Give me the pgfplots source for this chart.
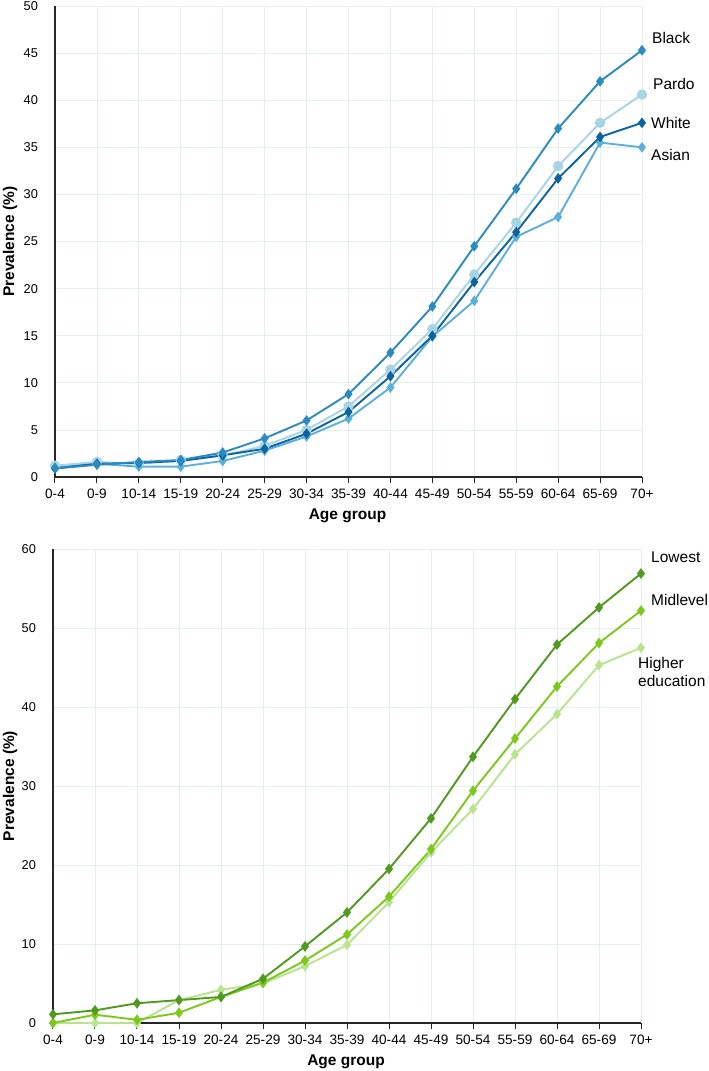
\documentclass[border=0pt]{standalone}
\usepackage{pgfplots}
\pgfplotsset{compat=1.18}
\usepackage{fontspec}
\setmainfont{Liberation Sans}
\definecolor{cBlack}{HTML}{2A8BC0}
\definecolor{cPardo}{HTML}{A8D4E6}
\definecolor{cWhite}{HTML}{0B64A0}
\definecolor{cAsian}{HTML}{5CB0D8}
\definecolor{gLow}{HTML}{4F9A1F}
\definecolor{gMid}{HTML}{7DC91B}
\definecolor{gHigh}{HTML}{BAE38F}
\definecolor{gridc}{HTML}{E6EFEF}
\newcommand{\lbl}{\fontsize{15.5}{18.8}\selectfont}
\pgfplotsset{
  agechart/.style={
    scale only axis, width=587pt,
    xmin=0, xmax=14, ymin=0, enlargelimits=false,
    xtick={0,...,14},
    xticklabels={0-4,0-9,10-14,15-19,20-24,25-29,30-34,35-39,40-44,45-49,50-54,55-59,60-64,65-69,70+},
    axis lines=left, axis line style={-, line width=1.2pt, black!85},
    xmajorgrids, ymajorgrids, grid style={gridc, line width=0.8pt},
    xtick align=outside, major tick length=6pt,
    xtick style={black!85, line width=1pt},
    ytick style={draw=none},
    xticklabel style={font=\fontsize{13.6}{16}\selectfont, yshift=-2pt},
    yticklabel style={font=\fontsize{12.8}{15}\selectfont, xshift=-10.5pt},
    /pgf/number format/assume math mode=true,
    clip=false,
    every axis plot/.append style={line width=1.9pt},
  },
  dmark/.style={mark=diamond*, mark size=3.8pt, mark options={solid}},
}
\begin{document}
\begin{tikzpicture}
\begin{axis}[agechart, height=471pt, ymax=50, ytick={0,5,...,50}]
\addplot[cPardo, mark=*, mark size=4.2pt] coordinates {
(0,1.2) (1,1.6) (2,1.4) (3,1.8) (4,2.3) (5,3.3) (6,5.0) (7,7.5)
(8,11.4) (9,15.7) (10,21.5) (11,27.0) (12,33.0) (13,37.6) (14,40.6)};
\addplot[cAsian, dmark] coordinates {
(0,1.0) (1,1.4) (2,1.1) (3,1.1) (4,1.7) (5,2.8) (6,4.3) (7,6.2)
(8,9.5) (9,14.9) (10,18.7) (11,25.5) (12,27.6) (13,35.5) (14,35.0)};
\addplot[cWhite, dmark] coordinates {
(0,0.9) (1,1.4) (2,1.5) (3,1.7) (4,2.3) (5,3.0) (6,4.6) (7,6.9)
(8,10.7) (9,15.0) (10,20.7) (11,26.0) (12,31.7) (13,36.1) (14,37.6)};
\addplot[cBlack, dmark] coordinates {
(0,0.9) (1,1.3) (2,1.6) (3,1.8) (4,2.6) (5,4.1) (6,6.0) (7,8.8)
(8,13.2) (9,18.1) (10,24.5) (11,30.6) (12,37.0) (13,42.0) (14,45.3)};
\node[anchor=west, inner sep=0pt, font=\lbl] at (axis cs:14,45.3) [xshift=10pt, yshift=12pt] {Black};
\node[anchor=west, inner sep=0pt, font=\lbl] at (axis cs:14,40.6) [xshift=11pt, yshift=11pt] {Pardo};
\node[anchor=west, inner sep=0pt, font=\lbl] at (axis cs:14,37.6) [xshift=9pt] {White};
\node[anchor=west, inner sep=0pt, font=\lbl] at (axis cs:14,35.0) [xshift=9pt, yshift=-8pt] {Asian};
\path (axis description cs:0,0.5) ++(-45pt,0pt) node[rotate=90, font=\lbl\bfseries] {Prevalence (\%)};
\path (axis description cs:0.5,0) ++(-1pt,-39pt) node[font=\lbl\bfseries] {Age group};
\end{axis}
\begin{axis}[agechart, at={(-2pt,-546pt)}, anchor=south west, width=588pt, height=474pt, ymax=60, ytick={0,10,...,60}]
\addplot[gHigh, dmark] coordinates {
(0,0) (1,0) (2,0) (3,2.9) (4,4.2) (5,5.0) (6,7.2) (7,9.9)
(8,15.3) (9,21.6) (10,27.1) (11,34.0) (12,39.1) (13,45.3) (14,47.5)};
\addplot[gMid, dmark] coordinates {
(0,0) (1,1.05) (2,0.4) (3,1.3) (4,3.3) (5,5.1) (6,7.9) (7,11.2)
(8,16.0) (9,22.0) (10,29.4) (11,36.0) (12,42.6) (13,48.1) (14,52.2)};
\addplot[gLow, dmark] coordinates {
(0,1.1) (1,1.6) (2,2.5) (3,2.9) (4,3.3) (5,5.6) (6,9.7) (7,14.0)
(8,19.5) (9,25.9) (10,33.7) (11,41.0) (12,47.9) (13,52.6) (14,56.9)};
\node[anchor=west, inner sep=0pt, font=\lbl] at (axis cs:14,56.9) [xshift=10pt, yshift=16pt] {Lowest};
\node[anchor=west, inner sep=0pt, font=\lbl] at (axis cs:14,52.2) [xshift=10pt, yshift=11pt] {Midlevel};
\node[anchor=north west, inner sep=0pt, font=\lbl, align=left] at (axis cs:14,47.5) [xshift=-3pt, yshift=-9pt] {Higher\\education};
\path (axis description cs:0,0.5) ++(-43pt,0pt) node[rotate=90, font=\lbl\bfseries] {Prevalence (\%)};
\path (axis description cs:0.5,0) ++(-1pt,-39pt) node[font=\lbl\bfseries] {Age group};
\end{axis}
\pgfresetboundingbox
\path[use as bounding box] (-55pt,-594pt) rectangle (654pt,477pt);
\end{tikzpicture}
\end{document}
